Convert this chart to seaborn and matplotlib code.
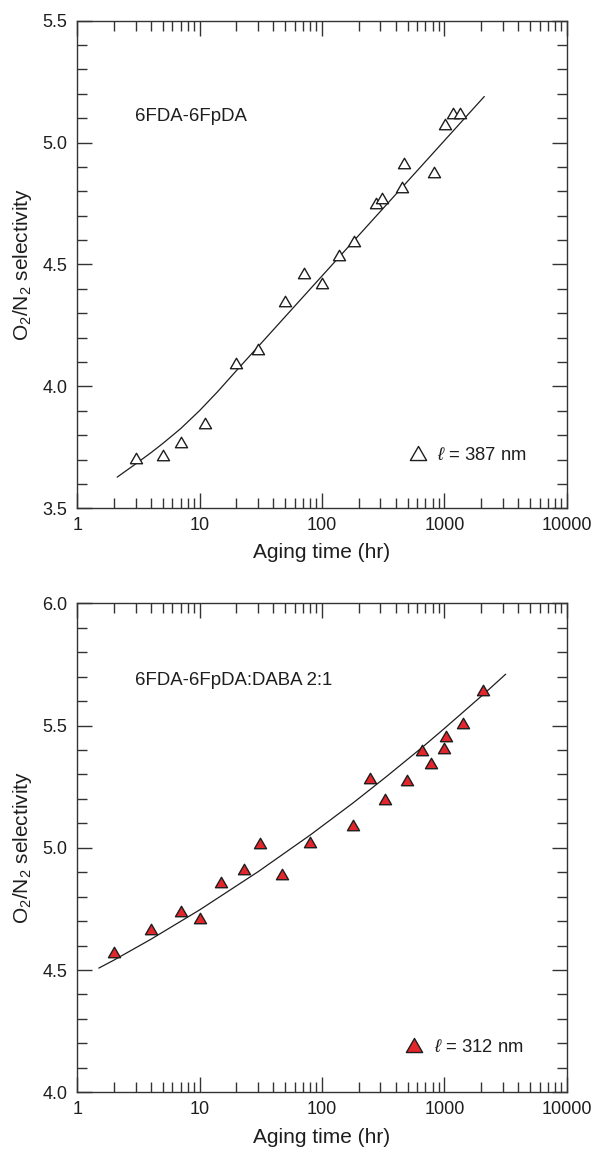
import matplotlib
matplotlib.use("Agg")
import matplotlib.pyplot as plt
from matplotlib.lines import Line2D
from matplotlib.markers import MarkerStyle
from matplotlib.path import Path
from matplotlib.ticker import LogLocator, MultipleLocator, NullFormatter
import seaborn as sns

# 6FDA-6FpDA, l = 387 nm
pda_time = [3, 5, 7, 11, 20, 30, 50, 71, 100, 138, 184, 276, 307, 448, 471, 828, 1012, 1170, 1343]
pda_sel = [3.705, 3.719, 3.773, 3.851, 4.097, 4.153, 4.352, 4.464, 4.423, 4.539,
           4.598, 4.753, 4.772, 4.819, 4.915, 4.881, 5.076, 5.123, 5.123]
pda_fit_time = [2.12, 3, 4, 5, 7, 10, 14, 20, 50, 100, 1000, 2120]
pda_fit_sel = [3.628, 3.682, 3.728, 3.766, 3.827, 3.901, 3.978, 4.065, 4.286, 4.453, 5.008, 5.189]

# 6FDA-6FpDA:DABA 2:1, l = 312 nm
daba_time = [2, 4, 7, 10, 15, 23, 31, 47, 80, 178, 247, 329, 498, 660, 773, 993, 1026, 1429, 2081]
daba_sel = [4.575, 4.667, 4.741, 4.712, 4.860, 4.915, 5.018, 4.893, 5.022, 5.092,
            5.284, 5.198, 5.277, 5.400, 5.348, 5.407, 5.457, 5.512, 5.645]
daba_fit_time = [1.5, 2, 4, 10, 30, 80, 180, 330, 660, 1000, 2080, 3170]
daba_fit_sel = [4.508, 4.541, 4.626, 4.746, 4.902, 5.052, 5.184, 5.288, 5.411, 5.488, 5.627, 5.710]

x_ticks = [1, 10, 100, 1000, 10000]
x_tick_labels = ["1", "10", "100", "1000", "10000"]
pda_y_ticks = [3.5, 4.0, 4.5, 5.0, 5.5]
daba_y_ticks = [4.0, 4.5, 5.0, 5.5, 6.0]

panel_titles = ["6FDA-6FpDA", "6FDA-6FpDA:DABA 2:1"]
legend_labels = [r"$\ell$ = 387 nm", r"$\ell$ = 312 nm"]

INK = "#1e1e1e"
RED = "#e3262b"

sns.set_theme(style="ticks")
plt.rcParams["font.family"] = ["Liberation Sans", "DejaVu Sans"]
plt.rcParams["mathtext.fontset"] = "custom"
plt.rcParams["mathtext.rm"] = "Liberation Sans"
plt.rcParams["mathtext.it"] = "Liberation Sans:italic"
plt.rcParams["text.color"] = INK
plt.rcParams["axes.labelcolor"] = INK
plt.rcParams["xtick.color"] = INK
plt.rcParams["ytick.color"] = INK

# equilateral triangle marker, centred on its bounding box
tri = MarkerStyle(Path([(-1, -0.866), (1, -0.866), (0, 0.866), (-1, -0.866)], closed=True))

fig = plt.figure(figsize=(5.94, 11.49), dpi=100)
ax_top = fig.add_axes([0.1301, 0.5576, 0.824, 0.4244])
ax_bot = fig.add_axes([0.1301, 0.04935, 0.824, 0.4256])

panels = [
    (ax_top, pda_time, pda_sel, pda_fit_time, pda_fit_sel, pda_y_ticks, "white",
     panel_titles[0], 0.803, legend_labels[0], (0.677, 0.109)),
    (ax_bot, daba_time, daba_sel, daba_fit_time, daba_fit_sel, daba_y_ticks, RED,
     panel_titles[1], 0.843, legend_labels[1], (0.670, 0.092)),
]

for (ax, t, sel, ft, fsel, yticks, face, title, title_y, leg_label, leg_anchor) in panels:
    ax.set_xscale("log")
    sns.lineplot(x=ft, y=fsel, ax=ax, color=INK, linewidth=0.9, estimator=None, zorder=2)
    sns.scatterplot(x=t, y=sel, ax=ax, marker=tri, s=8.7 ** 2, color=face,
                    edgecolor=INK, linewidth=1.0, zorder=3)

    ax.set_xlim(1, 10000)
    ax.set_ylim(yticks[0], yticks[-1])
    ax.set_xticks(x_ticks, x_tick_labels)
    ax.xaxis.set_minor_locator(LogLocator(base=10, subs=range(2, 10)))
    ax.xaxis.set_minor_formatter(NullFormatter())
    ax.set_yticks(yticks, [f"{v:.1f}" for v in yticks])
    ax.yaxis.set_minor_locator(MultipleLocator(0.1))

    ax.tick_params(which="both", direction="in", top=True, right=True,
                   labeltop=False, labelright=False, width=1.0, color="#333333")
    ax.tick_params(which="major", length=10.8)
    ax.tick_params(which="minor", length=7.3)
    ax.tick_params(axis="y", which="major", labelsize=13, pad=7.2)
    ax.tick_params(axis="x", which="major", labelsize=13, pad=6)

    for sp in ax.spines.values():
        sp.set_visible(True)
        sp.set_linewidth(1.0)
        sp.set_color("#333333")

    ax.set_xlabel("Aging time (hr)", fontsize=15)
    ax.set_ylabel(r"O$_2$/N$_2$ selectivity", fontsize=15)
    ax.xaxis.set_label_coords(0.5, -0.072)
    ax.yaxis.set_label_coords(-0.088, 0.5)

    ax.text(0.118, title_y, title, transform=ax.transAxes, fontsize=13.4,
            ha="left", va="center", color=INK)

    handle = Line2D([], [], linestyle="none", marker=tri, markersize=11.7,
                    markerfacecolor=face, markeredgecolor=INK, markeredgewidth=1.0)
    ax.legend(handles=[handle], labels=[leg_label], loc="center left",
              bbox_to_anchor=leg_anchor, frameon=False, fontsize=13.3,
              handlelength=1.0, handletextpad=0.55, borderpad=0, borderaxespad=0)

fig.savefig("out.png", dpi=100)
